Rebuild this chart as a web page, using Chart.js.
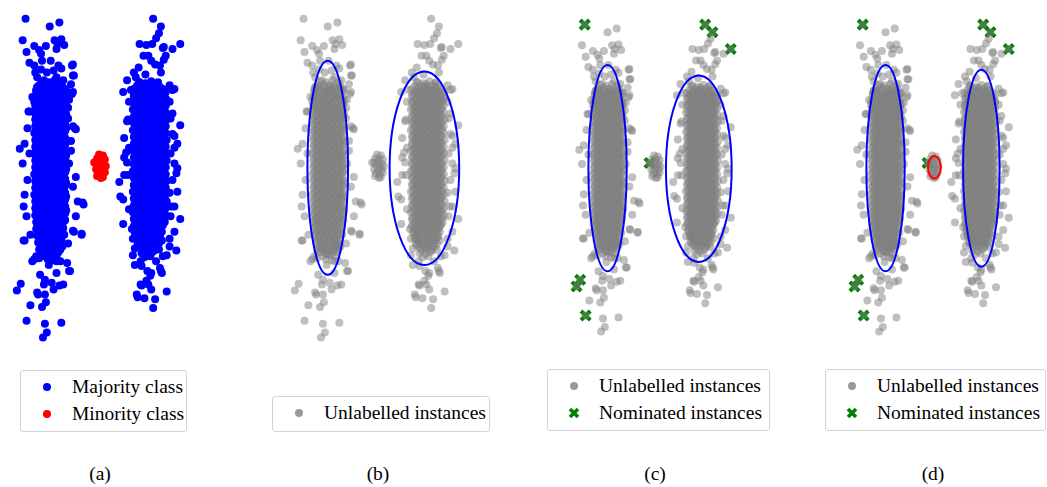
<!DOCTYPE html>
<html>
<head>
<meta charset="utf-8">
<script src="https://cdn.jsdelivr.net/npm/chart.js@4.4.0/dist/chart.umd.min.js"></script>
<style>
  body { margin: 0; background: #fff; }
  #page { position: relative; width: 1047px; height: 487px; overflow: hidden; font-family: "Liberation Serif", "DejaVu Serif", serif; color: #000; }
  .panel { position: absolute; top: 0; }
  .legend { position: absolute; box-sizing: border-box; border: 1px solid #d4d4d4; border-radius: 3px; background: #fff; padding: 3px 0 4px 0; font-size: 19.5px; }
  .legend .row { position: relative; height: 26.5px; line-height: 26px; padding-left: 51px; white-space: nowrap; }
  .legend .mark { position: absolute; left: 22px; top: 9px; width: 8px; height: 8px; border-radius: 50%; }
  .legend svg { position: absolute; left: 20px; top: 7px; }
  .caption { position: absolute; top: 462px; width: 80px; text-align: center; font-size: 19.5px; line-height: 24px; }
</style>
</head>
<body>
<div id="page">
  <canvas id="panelA" class="panel" width="240" height="360"></canvas>
  <canvas id="panelB" class="panel" width="240" height="360"></canvas>
  <canvas id="panelC" class="panel" width="240" height="360"></canvas>
  <canvas id="panelD" class="panel" width="240" height="360"></canvas>
</div>
<script>
// --- data -------------------------------------------------------------

// left majority blob: sparse tails and ragged edges
const leftOuter = [
  [-7.7,15.0],[-5.2,14.2],[-4.2,14.6],[-8.0,12.8],[-7.6,11.6],[-6.8,12.2],[-6.3,11.8],[-6.1,11.4],[-5.6,12.2],[-4.7,12.8],
  [-4.0,12.9],[-3.7,12.3],[-4.5,11.9],[-4.4,12.4],[-7.3,10.5],[-6.8,10.2],[-6.0,10.7],[-5.1,10.7],[-4.3,10.2],[-4.0,9.9],
  [-2.9,10.2],[-2.8,9.2],[-6.7,9.5],[-6.1,9.8],[-5.5,9.5],[-4.8,9.7],[-3.0,8.3],[-2.9,7.3],[-7.3,5.5],[-6.5,9.0],
  [-5.8,8.7],[-4.5,9.0],[-3.8,8.7],[-6.5,8.0],[-3.5,7.7],[-7.0,7.0],[-3.2,6.7],[-6.8,6.5],[-3.3,5.9],
  [-8.3,1.7],[-8.0,0.2],[-7.8,-3.0],[-7.9,-4.2],[-7.6,-5.2],[-7.5,-1.5],[-7.3,1.2],[-7.8,2.2],[-7.5,3.8],[-7.4,5.5],
  [-2.8,4.0],[-2.5,3.7],[-3.0,2.5],[-3.0,1.5],[-3.2,0.2],[-2.5,-1.2],[-2.8,-2.2],[-2.3,-3.7],[-1.7,-4.0],[-2.5,-5.2],
  [-3.3,4.8],[-2.6,3.8],[-1.8,-3.8],[-1.9,-7.0],[-2.8,-6.7],[-2.8,10.3],[-2.7,9.2],[-2.8,7.5],
  [-7.8,-7.7],[-7.2,-7.1],[-7.0,-9.8],[-6.8,-9.6],[-6.6,-9.3],[-6.0,-8.8],[-4.1,-9.8],[-3.4,-10.0],[-3.2,-10.8],[-4.5,-11.0],
  [-6.2,-11.2],[-5.7,-11.7],[-5.0,-12.0],[-4.2,-12.3],[-4.8,-12.7],[-5.8,-12.2],[-8.2,-12.1],[-8.6,-12.8],[-6.4,-13.2],[-5.7,-13.2],
  [-5.6,-14.0],[-6.0,-14.5],[-7.2,-14.3],[-7.6,-15.9],[-5.7,-16.2],[-4.0,-16.1],[-5.5,-17.1],[-5.9,-17.6],[-1.9,-7.1],[-2.7,-6.8],
  [-3.3,-8.0],[-4.2,-8.2],[-6.3,-9.5],[-5.3,-10.2],[-4.5,-9.8],[-3.1,-10.8],[-3.8,-12.2],[-6.5,-13.0],[-7.9,-7.7]
];

// left majority blob: dense core
const leftCore = [
  [-6.0,8.6],[-5.3,8.5],[-4.7,8.7],[-4.1,8.5],
  [-6.3,8.2],[-5.6,8.3],[-5.0,8.2],[-4.4,8.3],[-3.9,8.1],
  [-6.5,7.9],[-5.9,8.0],[-5.2,7.8],[-4.7,7.9],[-4.0,7.9],
  [-6.6,7.5],[-6.1,7.6],[-5.5,7.5],[-4.9,7.6],[-4.3,7.5],[-3.7,7.6],
  [-6.4,7.2],[-5.8,7.1],[-5.2,7.3],[-4.6,7.2],[-4.0,7.1],
  [-6.7,6.9],[-6.1,6.8],[-5.5,6.9],[-4.9,6.8],[-4.3,6.9],[-3.7,6.8],
  [-6.4,6.5],[-5.8,6.4],[-5.2,6.6],[-4.6,6.5],[-4.0,6.4],[-3.5,6.6],
  [-6.7,6.1],[-6.1,6.2],[-5.5,6.1],[-4.9,6.2],[-4.3,6.1],[-3.7,6.2],
  [-6.4,5.8],[-5.8,5.7],[-5.2,5.9],[-4.6,5.8],[-4.0,5.7],
  [-6.8,5.4],[-6.1,5.5],[-5.5,5.4],[-4.9,5.5],[-4.3,5.4],[-3.7,5.5],
  [-6.4,5.1],[-5.8,5.0],[-5.2,5.2],[-4.6,5.1],[-4.0,5.0],[-3.5,5.2],
  [-6.7,4.7],[-6.1,4.8],[-5.5,4.7],[-4.9,4.8],[-4.3,4.7],[-3.7,4.8],
  [-6.4,4.4],[-5.8,4.3],[-5.2,4.5],[-4.6,4.4],[-4.0,4.3],
  [-6.7,4.0],[-6.1,4.1],[-5.5,4.0],[-4.9,4.1],[-4.3,4.0],[-3.7,4.1],
  [-6.4,3.7],[-5.8,3.6],[-5.2,3.8],[-4.6,3.7],[-4.0,3.6],[-3.5,3.8],
  [-6.8,3.3],[-6.1,3.4],[-5.5,3.3],[-4.9,3.4],[-4.3,3.3],[-3.7,3.4],
  [-6.4,3.0],[-5.8,2.9],[-5.2,3.1],[-4.6,3.0],[-4.0,2.9],
  [-6.7,2.6],[-6.1,2.7],[-5.5,2.6],[-4.9,2.7],[-4.3,2.6],[-3.7,2.7],
  [-6.4,2.3],[-5.8,2.2],[-5.2,2.4],[-4.6,2.3],[-4.0,2.2],[-3.5,2.4],
  [-6.7,1.9],[-6.1,2.0],[-5.5,1.9],[-4.9,2.0],[-4.3,1.9],[-3.7,2.0],
  [-6.4,1.6],[-5.8,1.5],[-5.2,1.7],[-4.6,1.6],[-4.0,1.5],
  [-6.8,1.2],[-6.1,1.3],[-5.5,1.2],[-4.9,1.3],[-4.3,1.2],[-3.7,1.3],
  [-6.4,0.9],[-5.8,0.8],[-5.2,1.0],[-4.6,0.9],[-4.0,0.8],[-3.5,1.0],
  [-6.7,0.5],[-6.1,0.6],[-5.5,0.5],[-4.9,0.6],[-4.3,0.5],[-3.7,0.6],
  [-6.4,0.2],[-5.8,0.1],[-5.2,0.3],[-4.6,0.2],[-4.0,0.1],
  [-6.7,-0.2],[-6.1,-0.1],[-5.5,-0.2],[-4.9,-0.1],[-4.3,-0.2],[-3.7,-0.1],
  [-6.4,-0.5],[-5.8,-0.6],[-5.2,-0.4],[-4.6,-0.5],[-4.0,-0.6],[-3.5,-0.4],
  [-6.8,-0.9],[-6.1,-0.8],[-5.5,-0.9],[-4.9,-0.8],[-4.3,-0.9],[-3.7,-0.8],
  [-6.4,-1.2],[-5.8,-1.3],[-5.2,-1.1],[-4.6,-1.2],[-4.0,-1.3],
  [-6.7,-1.6],[-6.1,-1.5],[-5.5,-1.6],[-4.9,-1.5],[-4.3,-1.6],[-3.7,-1.5],
  [-6.4,-1.9],[-5.8,-2.0],[-5.2,-1.8],[-4.6,-1.9],[-4.0,-2.0],[-3.5,-1.8],
  [-6.7,-2.3],[-6.1,-2.2],[-5.5,-2.3],[-4.9,-2.2],[-4.3,-2.3],[-3.7,-2.2],
  [-6.4,-2.6],[-5.8,-2.7],[-5.2,-2.5],[-4.6,-2.6],[-4.0,-2.7],
  [-6.8,-3.0],[-6.1,-2.9],[-5.5,-3.0],[-4.9,-2.9],[-4.3,-3.0],[-3.7,-2.9],
  [-6.4,-3.3],[-5.8,-3.4],[-5.2,-3.2],[-4.6,-3.3],[-4.0,-3.4],[-3.5,-3.2],
  [-6.7,-3.7],[-6.1,-3.6],[-5.5,-3.7],[-4.9,-3.6],[-4.3,-3.7],[-3.7,-3.6],
  [-6.4,-4.0],[-5.8,-4.1],[-5.2,-3.9],[-4.6,-4.0],[-4.0,-4.1],
  [-6.7,-4.4],[-6.1,-4.3],[-5.5,-4.4],[-4.9,-4.3],[-4.3,-4.4],[-3.7,-4.3],
  [-6.4,-4.7],[-5.8,-4.8],[-5.2,-4.6],[-4.6,-4.7],[-4.0,-4.8],[-3.5,-4.6],
  [-6.7,-5.1],[-6.1,-5.0],[-5.5,-5.1],[-4.9,-5.0],[-4.3,-5.1],[-3.7,-5.0],
  [-6.4,-5.4],[-5.8,-5.5],[-5.2,-5.3],[-4.6,-5.4],[-4.0,-5.5],
  [-6.6,-5.8],[-6.1,-5.7],[-5.5,-5.8],[-4.9,-5.7],[-4.3,-5.8],[-3.7,-5.7],
  [-6.4,-6.1],[-5.8,-6.2],[-5.2,-6.0],[-4.6,-6.1],[-4.0,-6.2],
  [-6.6,-6.5],[-6.0,-6.4],[-5.5,-6.5],[-4.9,-6.4],[-4.3,-6.5],[-3.8,-6.4],
  [-6.3,-6.8],[-5.8,-6.9],[-5.2,-6.7],[-4.6,-6.8],[-4.0,-6.9],
  [-6.5,-7.2],[-6.0,-7.1],[-5.4,-7.2],[-4.8,-7.1],[-4.2,-7.2],[-3.7,-7.1],
  [-6.2,-7.5],[-5.7,-7.6],[-5.1,-7.4],[-4.5,-7.5],[-4.0,-7.6],
  [-6.4,-7.9],[-5.9,-7.8],[-5.3,-7.9],[-4.7,-7.8],[-4.1,-7.9],
  [-6.1,-8.2],[-5.6,-8.3],[-5.0,-8.1],[-4.4,-8.2],[-3.9,-8.3],
  [-6.3,-8.6],[-5.8,-8.5],[-5.2,-8.6],[-4.6,-8.5],[-4.1,-8.6],
  [-6.0,-8.9],[-5.4,-9.0],[-4.8,-8.8],[-4.3,-8.9],
  [-5.7,-9.3],[-5.1,-9.2],[-4.5,-9.3],
  [-5.4,-9.6],[-4.8,-9.7]
];

// left majority blob: extra points packed between the core rows
const leftCoreInner = [
  [-6.2,8.0],[-5.6,8.0],[-5.0,8.1],[-4.4,8.0],
  [-6.6,7.7],[-6.0,7.7],[-5.4,7.6],[-4.8,7.7],[-4.2,7.7],[-3.6,7.8],
  [-6.3,7.4],[-5.7,7.3],[-5.1,7.4],[-4.5,7.4],[-3.9,7.3],
  [-6.6,7.0],[-6.0,7.0],[-5.4,7.1],[-4.8,7.0],[-4.2,7.0],[-3.6,7.0],
  [-6.3,6.7],[-5.7,6.7],[-5.1,6.6],[-4.5,6.7],[-3.9,6.7],
  [-6.6,6.3],[-6.0,6.3],[-5.4,6.4],[-4.8,6.3],[-4.2,6.3],[-3.6,6.3],
  [-6.3,6.0],[-5.7,6.0],[-5.1,6.0],[-4.5,5.9],[-3.9,6.0],
  [-6.6,5.6],[-6.0,5.6],[-5.4,5.7],[-4.8,5.6],[-4.2,5.6],[-3.6,5.6],
  [-6.3,5.3],[-5.7,5.3],[-5.1,5.3],[-4.5,5.2],[-3.9,5.3],
  [-6.6,4.9],[-6.0,4.9],[-5.4,5.0],[-4.8,4.9],[-4.2,4.9],[-3.6,4.9],
  [-6.3,4.6],[-5.7,4.6],[-5.1,4.6],[-4.5,4.5],[-3.9,4.6],
  [-6.6,4.2],[-6.0,4.2],[-5.4,4.3],[-4.8,4.2],[-4.2,4.2],[-3.6,4.2],
  [-6.3,3.9],[-5.7,3.9],[-5.1,3.9],[-4.5,3.8],[-3.9,3.9],
  [-6.6,3.5],[-6.0,3.5],[-5.4,3.6],[-4.8,3.5],[-4.2,3.5],[-3.6,3.5],
  [-6.3,3.2],[-5.7,3.2],[-5.1,3.2],[-4.5,3.1],[-3.9,3.2],
  [-6.6,2.8],[-6.0,2.8],[-5.4,2.9],[-4.8,2.8],[-4.2,2.8],[-3.6,2.8],
  [-6.3,2.5],[-5.7,2.5],[-5.1,2.5],[-4.5,2.4],[-3.9,2.5],
  [-6.6,2.1],[-6.0,2.1],[-5.4,2.2],[-4.8,2.1],[-4.2,2.1],[-3.6,2.1],
  [-6.3,1.8],[-5.7,1.8],[-5.1,1.8],[-4.5,1.7],[-3.9,1.8],
  [-6.6,1.4],[-6.0,1.4],[-5.4,1.5],[-4.8,1.4],[-4.2,1.4],[-3.6,1.4],
  [-6.3,1.1],[-5.7,1.1],[-5.1,1.1],[-4.5,1.0],[-3.9,1.1],
  [-6.6,0.7],[-6.0,0.7],[-5.4,0.8],[-4.8,0.7],[-4.2,0.7],[-3.6,0.7],
  [-6.3,0.4],[-5.7,0.4],[-5.1,0.4],[-4.5,0.3],[-3.9,0.4],
  [-6.6,0.0],[-6.0,0.0],[-5.4,0.1],[-4.8,0.0],[-4.2,0.0],[-3.6,0.0],
  [-6.3,-0.3],[-5.7,-0.3],[-5.1,-0.3],[-4.5,-0.4],[-3.9,-0.3],
  [-6.6,-0.7],[-6.0,-0.7],[-5.4,-0.6],[-4.8,-0.7],[-4.2,-0.7],[-3.6,-0.7],
  [-6.3,-1.0],[-5.7,-1.0],[-5.1,-1.0],[-4.5,-1.1],[-3.9,-1.0],
  [-6.6,-1.4],[-6.0,-1.4],[-5.4,-1.3],[-4.8,-1.4],[-4.2,-1.4],[-3.6,-1.4],
  [-6.3,-1.7],[-5.7,-1.7],[-5.1,-1.7],[-4.5,-1.8],[-3.9,-1.7],
  [-6.6,-2.1],[-6.0,-2.1],[-5.4,-2.0],[-4.8,-2.1],[-4.2,-2.1],[-3.6,-2.1],
  [-6.3,-2.4],[-5.7,-2.4],[-5.1,-2.4],[-4.5,-2.5],[-3.9,-2.4],
  [-6.6,-2.8],[-6.0,-2.8],[-5.4,-2.7],[-4.8,-2.8],[-4.2,-2.8],[-3.6,-2.8],
  [-6.3,-3.1],[-5.7,-3.1],[-5.1,-3.1],[-4.5,-3.2],[-3.9,-3.1],
  [-6.6,-3.5],[-6.0,-3.5],[-5.4,-3.4],[-4.8,-3.5],[-4.2,-3.5],[-3.6,-3.5],
  [-6.3,-3.8],[-5.7,-3.8],[-5.1,-3.8],[-4.5,-3.9],[-3.9,-3.8],
  [-6.6,-4.2],[-6.0,-4.2],[-5.4,-4.1],[-4.8,-4.2],[-4.2,-4.2],[-3.6,-4.2],
  [-6.3,-4.5],[-5.7,-4.5],[-5.1,-4.5],[-4.5,-4.6],[-3.9,-4.5],
  [-6.6,-4.9],[-6.0,-4.9],[-5.4,-4.8],[-4.8,-4.9],[-4.2,-4.9],[-3.6,-4.9],
  [-6.3,-5.2],[-5.7,-5.2],[-5.1,-5.2],[-4.5,-5.3],[-3.9,-5.2],
  [-6.5,-5.6],[-6.0,-5.6],[-5.4,-5.5],[-4.8,-5.6],[-4.2,-5.6],[-3.6,-5.6],
  [-6.3,-5.9],[-5.7,-5.9],[-5.1,-5.9],[-4.5,-6.0],[-3.9,-5.9],
  [-6.5,-6.3],[-6.0,-6.3],[-5.4,-6.2],[-4.8,-6.3],[-4.2,-6.3],
  [-6.2,-6.6],[-5.7,-6.6],[-5.1,-6.6],[-4.5,-6.7],[-3.9,-6.6],
  [-6.4,-7.0],[-5.9,-7.0],[-5.3,-6.9],[-4.7,-7.0],[-4.1,-7.0],
  [-6.1,-7.3],[-5.5,-7.3],[-4.9,-7.3],[-4.3,-7.4],
  [-6.2,-7.7],[-5.6,-7.7],[-5.0,-7.6],[-4.4,-7.7],
  [-5.9,-8.0],[-5.3,-8.0],[-4.7,-8.0],[-4.1,-8.1],
  [-6.0,-8.4],[-5.4,-8.4],[-4.8,-8.3],[-4.3,-8.4],
  [-5.6,-8.7],[-5.0,-8.7],[-4.5,-8.7],
  [-5.3,-9.1],[-4.8,-9.1]
];

// right majority blob: sparse tails and ragged edges
const rightOuter = [
  [5.5,15.0],[6.3,14.2],[6.1,13.5],[5.8,13.0],[5.4,12.4],[4.8,12.3],[4.1,12.4],[6.6,12.1],[7.5,11.9],[8.3,12.4],
  [6.8,11.2],[6.6,10.8],[4.5,11.2],[5.0,11.2],[5.3,10.7],[5.7,10.3],[6.2,10.2],[4.0,10.0],[3.5,9.5],[2.8,8.7],
  [2.4,7.5],[3.2,7.7],[3.7,9.0],[4.7,9.3],[6.3,9.5],[7.2,8.2],[7.5,7.7],[4.0,8.5],[5.0,8.3],[6.0,8.5],
  [3.0,6.5],[6.8,6.8],[6.5,12.0],[7.7,7.8],[7.2,6.5],[7.5,5.3],
  [2.8,4.5],[2.5,2.8],[2.7,1.3],[2.8,0.3],[2.5,-1.0],[2.0,-1.7],[2.1,-3.2],[2.4,-6.0],[3.0,-4.5],[8.3,4.1],
  [7.3,4.8],[7.7,3.0],[8.0,2.2],[7.3,1.2],[7.7,0.2],[8.0,-0.3],[7.5,-1.5],[8.0,-2.7],[7.2,-2.8],[7.7,-4.2],
  [8.3,-5.5],[7.3,-5.2],[2.9,4.7],[3.0,1.8],[2.5,0.8],[2.9,-1.0],[2.4,-3.5],[3.4,-7.5],[3.4,-9.2],[4.2,-9.8],
  [7.5,3.2],[7.7,1.8],[7.9,-0.8],[7.4,-4.2],[7.7,-6.8],[7.2,-7.5],[6.9,-9.2],[7.9,-8.7],
  [3.3,-6.5],[7.2,-8.3],[6.5,-9.3],[3.6,-10.2],[4.3,-10.3],[5.8,-9.8],[6.2,-10.5],[6.3,-10.8],[5.3,-11.0],[4.8,-11.8],
  [5.3,-12.7],[4.3,-12.3],[3.9,-13.5],[3.8,-13.2],[4.6,-13.6],[5.7,-13.7],[6.9,-12.9],[5.5,-14.6],[5.2,-11.3],[4.0,-7.5],
  [4.3,-8.0],[3.6,-8.5],[5.0,-12.2],[4.2,-12.2],[6.4,-11.0],[4.9,-10.8]
];

// right majority blob: dense core
const rightCore = [
  [4.1,8.5],[4.7,8.4],[5.3,8.6],[5.9,8.4],
  [3.8,8.1],[4.4,8.2],[5.0,8.1],[5.6,8.2],[6.2,8.0],
  [3.5,7.8],[4.1,7.7],[4.7,7.9],[5.3,7.8],[5.9,7.7],[6.5,7.8],
  [3.8,7.4],[4.4,7.5],[5.0,7.4],[5.6,7.5],[6.2,7.4],[6.8,7.5],
  [3.5,7.1],[4.1,7.0],[4.7,7.2],[5.3,7.1],[5.9,7.0],[6.5,7.2],
  [3.8,6.7],[4.4,6.8],[5.0,6.7],[5.6,6.8],[6.2,6.7],[6.8,6.8],
  [3.5,6.4],[4.1,6.3],[4.7,6.5],[5.3,6.4],[5.9,6.3],[6.5,6.5],
  [3.8,6.0],[4.4,6.1],[5.0,6.0],[5.6,6.1],[6.2,6.0],[6.8,6.1],
  [3.4,5.7],[4.1,5.6],[4.7,5.8],[5.3,5.7],[5.9,5.6],[6.5,5.8],
  [3.8,5.3],[4.4,5.4],[5.0,5.3],[5.6,5.4],[6.2,5.3],[6.8,5.4],
  [3.5,5.0],[4.1,4.9],[4.7,5.1],[5.3,5.0],[5.9,4.9],[6.5,5.1],
  [3.8,4.6],[4.4,4.7],[5.0,4.6],[5.6,4.7],[6.2,4.6],[6.9,4.7],
  [3.5,4.3],[4.1,4.2],[4.7,4.4],[5.3,4.3],[5.9,4.2],[6.5,4.4],
  [3.8,3.9],[4.4,4.0],[5.0,3.9],[5.6,4.0],[6.2,3.9],[6.8,4.0],
  [3.4,3.6],[4.1,3.5],[4.7,3.7],[5.3,3.6],[5.9,3.5],[6.5,3.7],
  [3.8,3.2],[4.4,3.3],[5.0,3.2],[5.6,3.3],[6.2,3.2],[6.8,3.3],
  [3.5,2.9],[4.1,2.8],[4.7,3.0],[5.3,2.9],[5.9,2.8],[6.5,3.0],
  [3.8,2.5],[4.4,2.6],[5.0,2.5],[5.6,2.6],[6.2,2.5],[6.9,2.6],
  [3.5,2.2],[4.1,2.1],[4.7,2.3],[5.3,2.2],[5.9,2.1],[6.5,2.3],
  [3.8,1.8],[4.4,1.9],[5.0,1.8],[5.6,1.9],[6.2,1.8],[6.8,1.9],
  [3.4,1.5],[4.1,1.4],[4.7,1.6],[5.3,1.5],[5.9,1.4],[6.5,1.6],
  [3.8,1.1],[4.4,1.2],[5.0,1.1],[5.6,1.2],[6.2,1.1],[6.8,1.2],
  [3.5,0.8],[4.1,0.7],[4.7,0.9],[5.3,0.8],[5.9,0.7],[6.5,0.9],
  [3.8,0.4],[4.4,0.5],[5.0,0.4],[5.6,0.5],[6.2,0.4],[6.9,0.5],
  [3.5,0.1],[4.1,0.0],[4.7,0.2],[5.3,0.1],[5.9,0.0],[6.5,0.2],
  [3.8,-0.3],[4.4,-0.2],[5.0,-0.3],[5.6,-0.2],[6.2,-0.3],[6.8,-0.2],
  [3.4,-0.6],[4.1,-0.7],[4.7,-0.5],[5.3,-0.6],[5.9,-0.7],[6.5,-0.5],
  [3.8,-1.0],[4.4,-0.9],[5.0,-1.0],[5.6,-0.9],[6.2,-1.0],[6.8,-0.9],
  [3.5,-1.3],[4.1,-1.4],[4.7,-1.2],[5.3,-1.3],[5.9,-1.4],[6.5,-1.2],
  [3.8,-1.7],[4.4,-1.6],[5.0,-1.7],[5.6,-1.6],[6.2,-1.7],[6.9,-1.6],
  [3.5,-2.0],[4.1,-2.1],[4.7,-1.9],[5.3,-2.0],[5.9,-2.1],[6.5,-1.9],
  [3.8,-2.4],[4.4,-2.3],[5.0,-2.4],[5.6,-2.3],[6.2,-2.4],[6.8,-2.3],
  [3.4,-2.7],[4.1,-2.8],[4.7,-2.6],[5.3,-2.7],[5.9,-2.8],[6.5,-2.6],
  [3.8,-3.1],[4.4,-3.0],[5.0,-3.1],[5.6,-3.0],[6.2,-3.1],[6.8,-3.0],
  [3.5,-3.4],[4.1,-3.5],[4.7,-3.3],[5.3,-3.4],[5.9,-3.5],[6.5,-3.3],
  [3.8,-3.8],[4.4,-3.7],[5.0,-3.8],[5.6,-3.7],[6.2,-3.8],[6.9,-3.7],
  [3.5,-4.1],[4.1,-4.2],[4.7,-4.0],[5.3,-4.1],[5.9,-4.2],[6.5,-4.0],
  [3.8,-4.5],[4.4,-4.4],[5.0,-4.5],[5.6,-4.4],[6.2,-4.5],[6.8,-4.4],
  [3.4,-4.8],[4.1,-4.9],[4.7,-4.7],[5.3,-4.8],[5.9,-4.9],[6.5,-4.7],
  [3.8,-5.2],[4.4,-5.1],[5.0,-5.2],[5.6,-5.1],[6.2,-5.2],[6.8,-5.1],
  [3.5,-5.5],[4.1,-5.6],[4.7,-5.4],[5.3,-5.5],[5.9,-5.6],[6.5,-5.4],
  [3.8,-5.9],[4.4,-5.8],[5.0,-5.9],[5.6,-5.8],[6.2,-5.9],[6.7,-5.8],
  [3.5,-6.2],[4.1,-6.3],[4.7,-6.1],[5.3,-6.2],[5.9,-6.3],[6.5,-6.1],
  [3.8,-6.6],[4.4,-6.5],[5.0,-6.6],[5.6,-6.5],[6.2,-6.6],
  [3.6,-6.9],[4.1,-7.0],[4.7,-6.8],[5.3,-6.9],[5.9,-7.0],[6.4,-6.8],
  [3.8,-7.3],[4.4,-7.2],[5.0,-7.3],[5.6,-7.2],[6.2,-7.3],
  [4.1,-7.6],[4.7,-7.7],[5.3,-7.5],[5.9,-7.6],[6.4,-7.7],
  [3.9,-8.0],[4.4,-7.9],[5.0,-8.0],[5.6,-7.9],[6.1,-8.0],
  [4.2,-8.3],[4.8,-8.4],[5.3,-8.2],[5.9,-8.3],
  [4.5,-8.7],[5.0,-8.6],[5.6,-8.7],[6.1,-8.6],
  [4.3,-9.0],[4.9,-9.1],[5.4,-8.9],
  [4.6,-9.4],[5.2,-9.3]
];

// right majority blob: extra points packed between the core rows
const rightCoreInner = [
  [4.2,7.9],[4.8,8.0],[5.4,7.9],[6.0,8.0],
  [3.9,7.6],[4.5,7.6],[5.1,7.6],[5.7,7.7],[6.3,7.6],
  [3.6,7.2],[4.2,7.3],[4.8,7.2],[5.4,7.2],[6.0,7.3],[6.6,7.2],
  [3.9,6.9],[4.5,6.9],[5.1,6.9],[5.7,7.0],[6.3,6.9],
  [3.6,6.5],[4.2,6.6],[4.8,6.5],[5.4,6.5],[6.0,6.6],[6.6,6.5],
  [3.9,6.2],[4.5,6.2],[5.1,6.2],[5.7,6.3],[6.3,6.2],
  [3.6,5.8],[4.2,5.9],[4.8,5.8],[5.4,5.8],[6.0,5.9],[6.6,5.8],
  [3.9,5.5],[4.5,5.5],[5.1,5.5],[5.7,5.6],[6.3,5.5],
  [3.6,5.1],[4.2,5.2],[4.8,5.1],[5.4,5.1],[6.0,5.2],[6.6,5.1],
  [3.9,4.8],[4.5,4.8],[5.1,4.8],[5.7,4.9],[6.3,4.8],
  [3.6,4.4],[4.2,4.5],[4.8,4.4],[5.4,4.4],[6.0,4.5],[6.6,4.4],
  [3.9,4.1],[4.5,4.1],[5.1,4.1],[5.7,4.2],[6.3,4.1],
  [3.6,3.7],[4.2,3.8],[4.8,3.7],[5.4,3.7],[6.0,3.8],[6.6,3.7],
  [3.9,3.4],[4.5,3.4],[5.1,3.4],[5.7,3.5],[6.3,3.4],
  [3.6,3.0],[4.2,3.1],[4.8,3.0],[5.4,3.0],[6.0,3.1],[6.6,3.0],
  [3.9,2.7],[4.5,2.7],[5.1,2.7],[5.7,2.8],[6.3,2.7],
  [3.6,2.3],[4.2,2.4],[4.8,2.3],[5.4,2.3],[6.0,2.4],[6.6,2.3],
  [3.9,2.0],[4.5,2.0],[5.1,2.0],[5.7,2.1],[6.3,2.0],
  [3.6,1.6],[4.2,1.7],[4.8,1.6],[5.4,1.6],[6.0,1.7],[6.6,1.6],
  [3.9,1.3],[4.5,1.3],[5.1,1.3],[5.7,1.4],[6.3,1.3],
  [3.6,0.9],[4.2,1.0],[4.8,0.9],[5.4,0.9],[6.0,1.0],[6.6,0.9],
  [3.9,0.6],[4.5,0.6],[5.1,0.6],[5.7,0.7],[6.3,0.6],
  [3.6,0.2],[4.2,0.3],[4.8,0.2],[5.4,0.2],[6.0,0.3],[6.6,0.2],
  [3.9,-0.1],[4.5,-0.1],[5.1,-0.1],[5.7,0.0],[6.3,-0.1],
  [3.6,-0.5],[4.2,-0.4],[4.8,-0.5],[5.4,-0.5],[6.0,-0.4],[6.6,-0.5],
  [3.9,-0.8],[4.5,-0.8],[5.1,-0.8],[5.7,-0.7],[6.3,-0.8],
  [3.6,-1.2],[4.2,-1.1],[4.8,-1.2],[5.4,-1.2],[6.0,-1.1],[6.6,-1.2],
  [3.9,-1.5],[4.5,-1.5],[5.1,-1.5],[5.7,-1.4],[6.3,-1.5],
  [3.6,-1.9],[4.2,-1.8],[4.8,-1.9],[5.4,-1.9],[6.0,-1.8],[6.6,-1.9],
  [3.9,-2.2],[4.5,-2.2],[5.1,-2.2],[5.7,-2.1],[6.3,-2.2],
  [3.6,-2.6],[4.2,-2.5],[4.8,-2.6],[5.4,-2.6],[6.0,-2.5],[6.6,-2.6],
  [3.9,-2.9],[4.5,-2.9],[5.1,-2.9],[5.7,-2.8],[6.3,-2.9],
  [3.6,-3.3],[4.2,-3.2],[4.8,-3.3],[5.4,-3.3],[6.0,-3.2],[6.6,-3.3],
  [3.9,-3.6],[4.5,-3.6],[5.1,-3.6],[5.7,-3.5],[6.3,-3.6],
  [3.6,-4.0],[4.2,-3.9],[4.8,-4.0],[5.4,-4.0],[6.0,-3.9],[6.6,-4.0],
  [3.9,-4.3],[4.5,-4.3],[5.1,-4.3],[5.7,-4.2],[6.3,-4.3],
  [3.6,-4.7],[4.2,-4.6],[4.8,-4.7],[5.4,-4.7],[6.0,-4.6],[6.6,-4.7],
  [3.9,-5.0],[4.5,-5.0],[5.1,-5.0],[5.7,-4.9],[6.3,-5.0],
  [3.6,-5.4],[4.2,-5.3],[4.8,-5.4],[5.4,-5.4],[6.0,-5.3],[6.6,-5.4],
  [3.9,-5.7],[4.5,-5.7],[5.1,-5.7],[5.7,-5.6],[6.3,-5.7],
  [3.6,-6.1],[4.2,-6.0],[4.8,-6.1],[5.4,-6.1],[6.0,-6.0],[6.5,-6.1],
  [3.9,-6.4],[4.5,-6.4],[5.1,-6.4],[5.7,-6.3],[6.3,-6.4],
  [3.7,-6.8],[4.2,-6.7],[4.8,-6.8],[5.4,-6.8],[6.0,-6.7],
  [4.0,-7.1],[4.5,-7.1],[5.1,-7.1],[5.7,-7.0],[6.2,-7.1],
  [3.8,-7.5],[4.3,-7.4],[4.9,-7.5],[5.5,-7.5],[6.1,-7.4],
  [4.2,-7.8],[4.7,-7.8],[5.3,-7.8],[5.9,-7.7],
  [4.0,-8.2],[4.6,-8.1],[5.2,-8.2],[5.7,-8.2],
  [4.4,-8.5],[5.0,-8.5],[5.6,-8.5]
];

// minority blob between the two majority blobs
const minority = [
  [-0.1,1.1],[0.3,1.0],[-0.3,0.7],[0.1,0.7],[0.5,0.6],[-0.6,0.3],[-0.4,0.3],[0.0,0.3],[0.4,0.2],[-0.2,0.0],
  [0.2,-0.1],[0.6,-0.1],[-0.4,-0.4],[0.0,-0.5],[0.4,-0.4],[-0.2,-0.8],[0.2,-0.9],[0.5,-0.7],[-0.3,-1.1],[0.1,-1.3],[0.3,-1.2]
];

// instances picked by the selector
const nominated = [
  [-7.7,15.0],[5.5,15.0],[6.3,14.2],[8.3,12.4],[-0.6,0.3],[-8.2,-12.1],[-8.6,-12.8],[-7.6,-15.9]
];

// fitted boundaries (centre, semi-axes)
const leftBoundary = { cx: -5.2, cy: -0.25, rx: 2.1, ry: 10.95 };
const rightBoundaryWide = { cx: 4.8, cy: -0.3, rx: 3.6, ry: 9.9 };
const rightBoundaryTight = { cx: 5.3, cy: -0.25, rx: 2.0, ry: 10.45 };
const minorityBoundary = { cx: 0.15, cy: -0.15, rx: 0.7, ry: 1.2 };

const legendA = ['Majority class', 'Minority class'];
const legendB = ['Unlabelled instances'];
const legendCD = ['Unlabelled instances', 'Nominated instances'];
const captions = ['(a)', '(b)', '(c)', '(d)'];

// --- drawing ----------------------------------------------------------

const BLUE = '#0000ff';
const RED = '#ff0000';
const GRAY = 'rgba(128,128,128,0.5)';
const GREEN = '#008000';

const panelCenters = [100, 378, 655, 933];
const majority = leftOuter.concat(leftCore, leftCoreInner, rightOuter, rightCore, rightCoreInner);
const unlabelled = majority.concat(minority);

function dots(data, color) {
  return { data, pointRadius: 4, pointHoverRadius: 4, pointBorderWidth: 0, pointBackgroundColor: color, pointBorderColor: color };
}

function crosses(data) {
  return { data, pointStyle: 'crossRot', pointRadius: 6.5, pointHoverRadius: 6.5, pointBorderWidth: 4, pointBorderColor: GREEN, pointBackgroundColor: GREEN };
}

// strokes ellipses given in data units on top of the points
function outlines(shapes) {
  return {
    id: 'outlines',
    afterDatasetsDraw(chart) {
      const { ctx, scales: { x, y } } = chart;
      shapes.forEach(s => {
        const cx = x.getPixelForValue(s.cx);
        const cy = y.getPixelForValue(s.cy);
        const rx = Math.abs(x.getPixelForValue(s.cx + s.rx) - cx);
        const ry = Math.abs(y.getPixelForValue(s.cy + s.ry) - cy);
        ctx.save();
        ctx.beginPath();
        ctx.ellipse(cx, cy, rx, ry, 0, 0, Math.PI * 2);
        ctx.strokeStyle = s.color;
        ctx.lineWidth = 2;
        ctx.stroke();
        ctx.restore();
      });
    }
  };
}

function makePanel(id, index, datasets, shapes) {
  const canvas = document.getElementById(id);
  canvas.style.left = (panelCenters[index] - 120) + 'px';
  return new Chart(canvas, {
    type: 'scatter',
    data: { datasets },
    options: {
      responsive: false,
      animation: false,
      events: [],
      layout: { padding: 0 },
      plugins: { legend: { display: false }, tooltip: { enabled: false } },
      scales: {
        x: { display: false, min: -12, max: 12 },
        y: { display: false, min: -19.5, max: 16.5 }
      }
    },
    plugins: [outlines(shapes)]
  });
}

const blueRing = s => Object.assign({ color: BLUE }, s);

makePanel('panelA', 0, [dots(majority, BLUE), dots(minority, RED)], []);
makePanel('panelB', 1, [dots(unlabelled, GRAY)], [blueRing(leftBoundary), blueRing(rightBoundaryWide)]);
makePanel('panelC', 2, [dots(unlabelled, GRAY), crosses(nominated)], [blueRing(leftBoundary), blueRing(rightBoundaryWide)]);
makePanel('panelD', 3, [dots(unlabelled, GRAY), crosses(nominated)],
  [blueRing(leftBoundary), blueRing(rightBoundaryTight), Object.assign({ color: RED }, minorityBoundary)]);

// legend boxes and captions
const page = document.getElementById('page');

function marker(kind) {
  if (kind === 'cross') {
    return '<svg width="12" height="12"><path d="M2 2L10 10M10 2L2 10" stroke="' + GREEN + '" stroke-width="3.6"/></svg>';
  }
  return '<span class="mark" style="background:' + kind + '"></span>';
}

function legendBox(labels, kinds, left, top, width) {
  const box = document.createElement('div');
  box.className = 'legend';
  box.style.left = left + 'px';
  box.style.top = top + 'px';
  box.style.width = width + 'px';
  box.innerHTML = labels.map((t, i) => '<div class="row">' + marker(kinds[i]) + t + '</div>').join('');
  page.appendChild(box);
}

legendBox(legendA, [BLUE, RED], 20, 370, 167);
legendBox(legendB, ['#999999'], 272, 396, 218);
legendBox(legendCD, ['#999999', 'cross'], 547, 369, 223);
legendBox(legendCD, ['#999999', 'cross'], 825, 369, 221);

captions.forEach((c, i) => {
  const el = document.createElement('div');
  el.className = 'caption';
  el.style.left = (panelCenters[i] - 40) + 'px';
  el.textContent = c;
  page.appendChild(el);
});
</script>
</body>
</html>
